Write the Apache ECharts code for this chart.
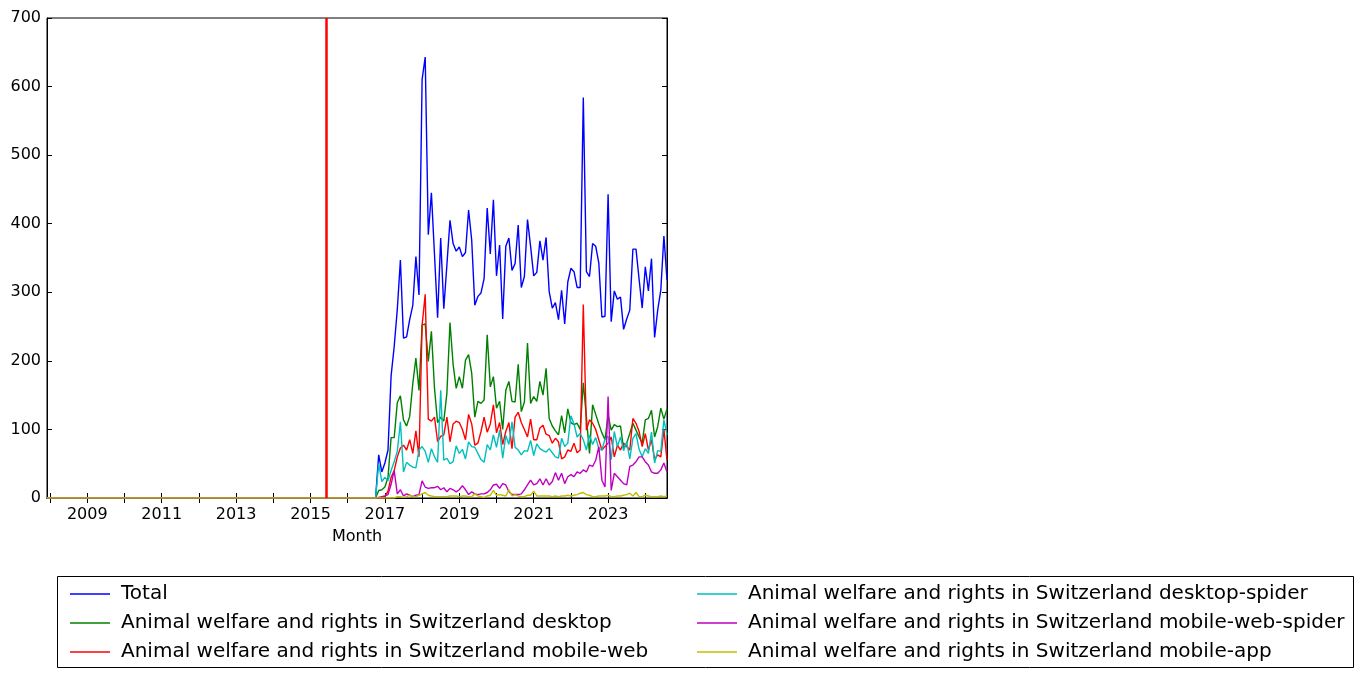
<!DOCTYPE html>
<html>
<head>
<meta charset="utf-8">
<script src="https://cdn.jsdelivr.net/npm/echarts@6/dist/echarts.min.js"></script>
<style>
html,body{margin:0;padding:0;background:#fff;}
#chart{width:1364px;height:679px;}
</style>
</head>
<body>
<div id="chart"></div>
<script>
// ---- data ----
const firstMonth = '2007-12';      // start of the series (all zero until zeroUntil)
const zeroUntil = '2016-10';
const dataStart = '2016-11';       // first month with non-zero values
const lastMonth = '2024-08';
const markerMonth = '2015-06';     // red vertical line

const yearTicks = [2008,2009,2010,2011,2012,2013,2014,2015,2016,2017,2018,2019,2020,2021,2022,2023,2024];
const yearLabels = [2009,2011,2013,2015,2017,2019,2021,2023];
const yTicks = [0,100,200,300,400,500,600,700];

const seriesNames = [
  'Total',
  'Animal welfare and rights in Switzerland desktop',
  'Animal welfare and rights in Switzerland mobile-web',
  'Animal welfare and rights in Switzerland desktop-spider',
  'Animal welfare and rights in Switzerland mobile-web-spider',
  'Animal welfare and rights in Switzerland mobile-app'
];

const total = [63,38,51,70,178,221,275,347,233,235,
  260,281,352,296,610,643,384,445,355,263,
  379,276,340,405,371,360,366,352,358,420,
  376,281,294,299,320,423,356,435,324,369,
  261,367,379,332,342,398,307,323,406,367,
  324,329,375,347,380,301,277,285,260,303,
  254,315,335,330,307,307,584,330,323,371,
  367,343,264,265,443,257,302,290,293,246,
  261,274,363,363,319,277,337,302,349,234,
  274,303,382,318];
const desktop = [11,12,16,30,88,88,139,149,114,105,
  119,167,204,157,252,254,199,243,160,110,
  118,112,153,256,195,160,177,160,201,209,
  182,118,141,138,143,238,162,177,131,141,
  100,157,170,141,140,195,126,140,226,138,
  148,141,170,150,189,116,105,98,92,120,
  95,130,110,107,109,100,168,118,65,136,
  122,108,95,85,121,99,107,104,105,72,
  80,94,109,99,89,80,114,116,128,89,
  104,131,115,130];
const mobileWeb = [0,0,2,10,30,40,60,73,77,70,
  85,65,98,60,252,297,115,112,118,82,
  90,92,118,82,108,112,110,100,85,122,
  108,77,80,97,118,96,108,136,95,110,
  78,97,110,72,118,125,110,100,89,115,
  85,85,102,106,93,91,80,87,82,57,
  60,70,68,80,66,70,282,99,114,109,
  100,85,70,75,80,89,60,77,70,80,
  75,70,116,109,97,75,94,70,85,56,
  63,60,100,55];
const desktopSpider = [50,24,30,25,40,53,68,111,38,52,
  48,45,44,70,75,68,52,72,60,52,
  157,55,58,50,53,76,65,71,57,82,
  75,74,65,56,52,78,70,92,74,99,
  58,91,78,111,74,70,63,69,68,84,
  62,79,72,69,67,72,66,60,58,87,
  75,80,120,108,89,94,85,70,92,78,
  88,72,70,86,90,56,97,75,89,69,
  82,57,87,94,71,60,72,65,96,51,
  69,68,114,92];
const mobileWebSpider = [1,2,3,5,20,40,6,12,3,6,
  4,2,4,5,25,16,14,15,15,17,
  12,15,9,14,12,9,12,18,12,5,
  9,6,5,6,6,8,12,19,20,14,
  21,19,9,5,5,5,6,12,19,26,
  19,21,28,19,28,19,24,37,26,36,
  21,31,34,31,38,36,41,38,48,46,
  55,75,26,16,148,11,36,31,26,21,
  19,46,48,53,60,60,53,48,38,36,
  36,41,51,38];
const mobileApp = [0,0,0,0,0,0,2,2,1,2,
  4,2,2,4,6,8,4,3,2,2,
  2,2,2,3,3,3,2,3,3,2,
  2,6,3,2,1,3,4,11,4,5,
  4,3,12,3,5,3,2,2,4,4,
  10,3,3,3,3,3,2,3,2,3,
  3,4,3,4,5,7,8,5,4,2,
  2,3,3,3,4,2,2,3,3,4,
  5,7,3,8,2,2,4,3,2,2,
  2,3,2,3];

const colors = ['#0000ff','#008000','#ff0000','#00bfbf','#bf00bf','#bfbf00'];

// ---- helpers ----
function toYear(ym){ const p = ym.split('-').map(Number); return p[0] + (p[1]-1)/12; }
function build(values){
  const s = toYear(dataStart);
  const out = [[toYear(firstMonth),0],[toYear(zeroUntil),0]];
  values.forEach((v,i)=>out.push([s + i/12, v]));
  return out;
}

const allValues = [total, desktop, mobileWeb, desktopSpider, mobileWebSpider, mobileApp];
const FONT = 'DejaVu Sans';

const series = allValues.map((vals, k) => ({
  name: seriesNames[k],
  type: 'line',
  data: build(vals),
  showSymbol: false,
  symbol: 'none',
  lineStyle: {color: colors[k], width: 1.4},
  itemStyle: {color: colors[k]},
  animation: false
}));
series[0].markLine = {
  silent: true,
  symbol: 'none',
  label: {show: false},
  lineStyle: {color: '#ff0000', width: 2.5, type: 'solid'},
  data: [{xAxis: toYear(markerMonth)}],
  animation: false
};

const legendCommon = {
  orient: 'vertical',
  icon: 'rect',
  itemWidth: 40,
  itemHeight: 1.4,
  itemGap: 7,
  padding: 0,
  selectedMode: false,
  textStyle: {fontFamily: FONT, fontSize: 20, color: '#000', lineHeight: 22, padding: [0,0,0,6]}
};

const option = {
  backgroundColor: '#fff',
  animation: false,
  color: colors,
  grid: {left: 47, top: 18, width: 620, height: 480, show: true, borderColor: '#000', borderWidth: 1, backgroundColor: 'transparent'},
  xAxis: [{
    type: 'value',
    min: toYear(firstMonth),
    max: toYear(lastMonth),
    position: 'bottom',
    name: 'Month',
    nameLocation: 'middle',
    nameGap: 31,
    nameTextStyle: {fontFamily: FONT, fontSize: 16, color: '#000'},
    axisLine: {show: true, lineStyle: {color: '#000', width: 1}},
    axisTick: {show: true, inside: true, length: 5, customValues: yearTicks, lineStyle: {color: '#000'}},
    axisLabel: {show: true, customValues: yearLabels, fontFamily: FONT, fontSize: 16, color: '#000', margin: 9, formatter: v => String(Math.round(v))},
    splitLine: {show: false}
  },{
    type: 'value',
    min: toYear(firstMonth),
    max: toYear(lastMonth),
    position: 'top',
    axisLine: {show: true, lineStyle: {color: '#000', width: 1}},
    axisTick: {show: true, inside: true, length: 5, customValues: yearTicks, lineStyle: {color: '#000'}},
    axisLabel: {show: false},
    splitLine: {show: false}
  }],
  yAxis: [{
    type: 'value',
    min: 0, max: 700, interval: 100,
    position: 'left',
    axisLine: {show: true, lineStyle: {color: '#000', width: 1}},
    axisTick: {show: true, inside: true, length: 5, customValues: yTicks, lineStyle: {color: '#000'}},
    axisLabel: {customValues: yTicks, fontFamily: FONT, fontSize: 16, color: '#000', margin: 6},
    splitLine: {show: false}
  },{
    type: 'value',
    min: 0, max: 700, interval: 100,
    position: 'right',
    axisLine: {show: true, lineStyle: {color: '#000', width: 1}},
    axisTick: {show: true, inside: true, length: 5, customValues: yTicks, lineStyle: {color: '#000'}},
    axisLabel: {show: false},
    splitLine: {show: false}
  }],
  legend: [
    Object.assign({}, legendCommon, {left: 70, top: 583, data: seriesNames.slice(0,3)}),
    Object.assign({}, legendCommon, {left: 697, top: 583, data: seriesNames.slice(3,6)})
  ],
  graphic: [{
    type: 'rect',
    shape: {x: 57.5, y: 576.5, width: 1296, height: 91},
    style: {fill: 'none', stroke: '#000', lineWidth: 1},
    silent: true
  }],
  series: series
};

const chart = echarts.init(document.getElementById('chart'), null, {renderer: 'canvas'});
chart.setOption(option);
</script>
</body>
</html>
